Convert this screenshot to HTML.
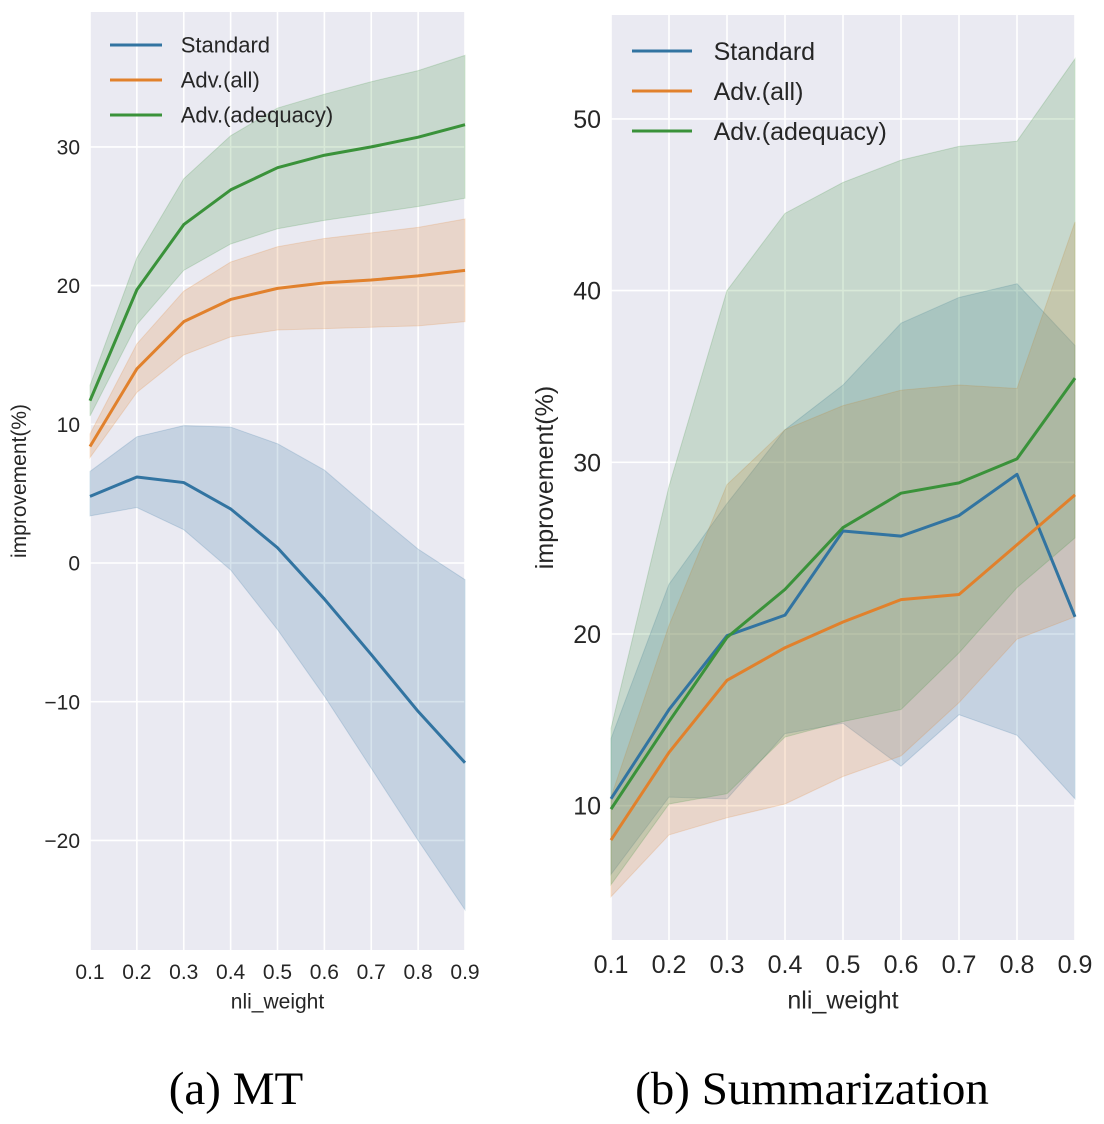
<!DOCTYPE html>
<html><head><meta charset="utf-8"><style>
body{margin:0;background:#fff;width:1104px;height:1124px;overflow:hidden}
svg{display:block}
</style></head><body>
<svg id="s" width="1104" height="1124" xmlns="http://www.w3.org/2000/svg">
<text x="236" y="1104" font-family="Liberation Serif, serif" font-size="47" text-anchor="middle">(a)  MT</text>
<text x="812" y="1104" font-family="Liberation Serif, serif" font-size="47" text-anchor="middle">(b)  Summarization</text>
</svg>
<script>
const xCats=[0.1,0.2,0.3,0.4,0.5,0.6,0.7,0.8,0.9];
const seriesNames=["Standard","Adv.(all)","Adv.(adequacy)"];
const mtStdMean=[4.8,6.2,5.8,3.9,1.1,-2.6,-6.6,-10.7,-14.4];
const mtStdUp=[6.6,9.1,9.9,9.8,8.6,6.7,3.8,1.0,-1.2];
const mtStdLo=[3.4,4.0,2.4,-0.5,-4.8,-9.6,-14.8,-20.0,-25.0];
const mtAllMean=[8.4,14.0,17.4,19.0,19.8,20.2,20.4,20.7,21.1];
const mtAllUp=[9.3,15.8,19.6,21.7,22.8,23.4,23.8,24.2,24.8];
const mtAllLo=[7.6,12.3,15.0,16.3,16.8,16.9,17.0,17.1,17.4];
const mtAdqMean=[11.7,19.7,24.4,26.9,28.5,29.4,30.0,30.7,31.6];
const mtAdqUp=[12.8,22.0,27.7,30.8,32.8,33.8,34.7,35.5,36.6];
const mtAdqLo=[10.6,17.2,21.1,23.0,24.1,24.7,25.2,25.7,26.3];
const smStdMean=[10.4,15.6,19.9,21.1,26.0,25.7,26.9,29.3,21.0];
const smStdUp=[13.9,22.9,27.6,31.9,34.5,38.1,39.6,40.4,36.8];
const smStdLo=[6.0,10.5,10.4,14.2,14.8,12.3,15.3,14.1,10.4];
const smAllMean=[8.0,13.1,17.3,19.2,20.7,22.0,22.3,25.2,28.1];
const smAllUp=[10.5,20.5,28.7,31.9,33.3,34.2,34.5,34.3,44.0];
const smAllLo=[4.7,8.3,9.3,10.1,11.7,12.9,16.0,19.7,21.0];
const smAdqMean=[9.8,14.9,19.8,22.6,26.2,28.2,28.8,30.2,34.9];
const smAdqUp=[14.5,28.6,40.0,44.5,46.3,47.6,48.4,48.7,53.5];
const smAdqLo=[5.4,10.1,10.7,14.0,14.9,15.6,18.9,22.7,25.6];
const mtYTicks=[-20,-10,0,10,20,30];
const mtYLabels=["\u221220","\u221210","0","10","20","30"];
const smYTicks=[10,20,30,40,50];
const smYLabels=["10","20","30","40","50"];
const xLabels=["0.1","0.2","0.3","0.4","0.5","0.6","0.7","0.8","0.9"];

const colors=["#3274a1","#e1812c","#3a923a"];
const NS="http://www.w3.org/2000/svg";
const svg=document.getElementById('s');
function mk(t,a,p){const e=document.createElementNS(NS,t);for(const k in a)e.setAttribute(k,a[k]);(p||svg).appendChild(e);return e;}

function panel(cfg){
  const g=mk('g',{});
  
  
  const X=v=>cfg.x0+(v-0.1)/0.8*(cfg.x1-cfg.x0);
  const Y=v=>cfg.yRef+(cfg.vRef-v)*cfg.ppu;
  const bg=mk('rect',{x:cfg.x0,y:cfg.top,width:cfg.x1-cfg.x0,height:cfg.bot-cfg.top,fill:'#eaeaf2'},g);
  
  
  xCats.forEach((c,i)=>{
    const l=mk('line',{x1:X(c),x2:X(c),y1:cfg.top,y2:cfg.bot,stroke:'#fff','stroke-width':1.6},g);
    
    
    const t=mk('text',{x:X(c),y:cfg.bot+cfg.fs+8,'font-size':cfg.fs,'text-anchor':'middle','font-family':'Liberation Sans, sans-serif',fill:'#262626'},g);
    t.textContent=xLabels[i];
    
    
  });
  cfg.yt.forEach((v,i)=>{
    const l=mk('line',{x1:cfg.x0,x2:cfg.x1,y1:Y(v),y2:Y(v),stroke:'#fff','stroke-width':1.6},g);
    
    
    const t=mk('text',{x:cfg.x0-10,y:Y(v)+cfg.fs*0.36,'font-size':cfg.fs,'text-anchor':'end','font-family':'Liberation Sans, sans-serif',fill:'#262626'},g);
    t.textContent=cfg.yl[i];
    
    
  });
  cfg.series.forEach((s,k)=>{
    let d='M'+xCats.map((c,i)=>X(c)+','+Y(s.up[i])).join('L');
    for(let i=xCats.length-1;i>=0;i--)d+='L'+X(xCats[i])+','+Y(s.lo[i]);
    const b=mk('path',{d:d+'Z',fill:colors[k],'fill-opacity':0.2,stroke:colors[k],'stroke-opacity':0.2},g);
    
    
  });
  cfg.series.forEach((s,k)=>{
    const p=mk('polyline',{points:xCats.map((c,i)=>X(c)+','+Y(s.mean[i])).join(' '),fill:'none',stroke:colors[k],'stroke-width':3,'stroke-linejoin':'round'},g);
    
    
  });
  const xt=mk('text',{x:(cfg.x0+cfg.x1)/2,y:cfg.bot+cfg.fs*2.5+6,'font-size':cfg.fs,'text-anchor':'middle','font-family':'Liberation Sans, sans-serif',fill:'#262626'},g);
  xt.textContent='nli_weight';
  
  
  const yx=cfg.ytx, yy=(cfg.top+cfg.bot)/2;
  const yt=mk('text',{x:yx,y:yy,'font-size':cfg.fs,'text-anchor':'middle','font-family':'Liberation Sans, sans-serif',fill:'#262626',transform:`rotate(-90 ${yx} ${yy})`},g);
  yt.textContent='improvement(%)';
  
  
  seriesNames.forEach((n,k)=>{
    const ly=cfg.legY+k*cfg.legDy;
    const le=mk('g',{},g);
    
    
    mk('line',{x1:cfg.legX,x2:cfg.legX+cfg.legL,y1:ly,y2:ly,stroke:colors[k],'stroke-width':3},le);
    const t=mk('text',{x:cfg.legX+cfg.legL+cfg.legL*0.36,y:ly+cfg.fs*0.36,'font-size':cfg.lfs||cfg.fs,'font-family':'Liberation Sans, sans-serif',fill:'#262626'},le);
    t.textContent=n;
  });
}
panel({name:'mt-chart',x0:90,x1:465,top:12,bot:950,yRef:563,vRef:0,ppu:13.87,yt:mtYTicks,yl:mtYLabels,fs:21,lfs:22,ytx:26,legX:110,legY:45,legDy:35,legL:52,
  series:[{mean:mtStdMean,up:mtStdUp,lo:mtStdLo},{mean:mtAllMean,up:mtAllUp,lo:mtAllLo},{mean:mtAdqMean,up:mtAdqUp,lo:mtAdqLo}]});
panel({name:'summarization-chart',x0:611,x1:1075,top:15,bot:940,yRef:634,vRef:20,ppu:17.17,yt:smYTicks,yl:smYLabels,fs:25,ytx:553,legX:632,legY:51,legDy:40,legL:60,
  series:[{mean:smStdMean,up:smStdUp,lo:smStdLo},{mean:smAllMean,up:smAllUp,lo:smAllLo},{mean:smAdqMean,up:smAdqUp,lo:smAdqLo}]});
</script>
</body></html>
